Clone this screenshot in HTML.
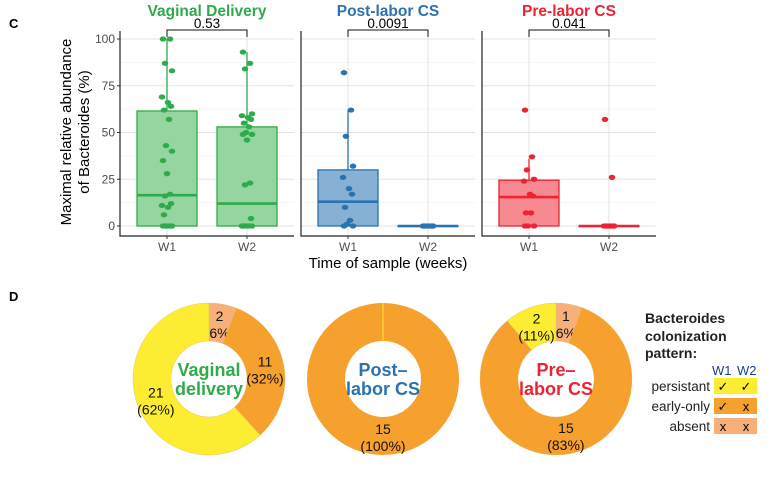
<!DOCTYPE html>
<html><head><meta charset="utf-8">
<style>
html,body{margin:0;padding:0;background:#fff;}
svg{display:block;font-family:"Liberation Sans",Arial,sans-serif;}
</style></head>
<body>
<svg id="fig" width="783" height="477" viewBox="0 0 783 477" xmlns="http://www.w3.org/2000/svg">
<text x="9" y="28" font-size="13" font-weight="bold">C</text>
<text x="9" y="301" font-size="13" font-weight="bold">D</text>
<g id="boxes"></g>
<text x="388" y="268" font-size="15" text-anchor="middle">Time of sample (weeks)</text>
<text transform="translate(71,132) rotate(-90)" font-size="15" text-anchor="middle"><tspan x="0" dy="0">Maximal relative abundance</tspan><tspan x="0" dy="18">of Bacteroides (%)</tspan></text>
<g id="donuts"></g>
<g>
<text font-size="14" font-weight="bold" fill="#222"><tspan x="645" y="323">Bacteroides</tspan><tspan x="645" y="341">colonization</tspan><tspan x="645" y="358">pattern:</tspan></text>
<text x="712" y="375" font-size="13" fill="#1a3f8a">W1</text>
<text x="737" y="375" font-size="13" fill="#1a3f8a">W2</text>
<g id="legrows"></g>
</g>
</svg>
<script>
const NS="http://www.w3.org/2000/svg";
function mk(tag,attrs,parent){const e=document.createElementNS(NS,tag);for(const k in attrs)e.setAttribute(k,attrs[k]);parent.appendChild(e);return e;}

// ---------- Boxplot data ----------
const groups=["Vaginal Delivery","Post-labor CS","Pre-labor CS"];
const groupColors=["#2eab4a","#2a73b0","#ee2233"];
const groupFills=["#95d5a0","#86b0d4","#f68a90"];
const pvalues=["0.53","0.0091","0.041"];
const timepoints=["W1","W2"];
const yTicks=[0,25,50,75,100];
// box stats: [q1, median, q3, whiskerLow, whiskerHigh]
const vdW1Stats=[0,16.5,61.5,0,100];
const vdW2Stats=[0,12,53,0,93];
const plW1Stats=[0,13,30,0,62];
const plW2Stats=[0,0,0,0,0];
const prW1Stats=[0,15.5,24.5,0,36];
const prW2Stats=[0,0,0,0,0];
const vdW1Points=[100,100,87,83,69,66,64,62,57,43,40,35,28,17,16,12,11,10,6,0,0,0,0,0,0,0,0];
const vdW2Points=[93,87,84,60,59,58,57,55,53,50,49,49,46,23,22,4,0,0,0,0,0,0,0,0];
const plW1Points=[82,62,48,32,26,20,17,10,3,1,0,0];
const plW2Points=[0,0,0,0,0,0,0,0,0,0,0];
const prW1Points=[62,37,30,25,24,17,16,7,7,0,0,0];
const prW2Points=[57,26,0,0,0,0,0,0,0,0,0];
const jitter=[-4,3,-2,5,-5,1,4,-3,2,-1,5,-4,0,3,-2,4,-5,1,-3,2,-4,5,0,-2,3,-1,4];

const stats=[[vdW1Stats,vdW2Stats],[plW1Stats,plW2Stats],[prW1Stats,prW2Stats]];
const points=[[vdW1Points,vdW2Points],[plW1Points,plW2Points],[prW1Points,prW2Points]];
const panelX=[120,301,482], panelW=174, panelTop=31, panelBottom=236;
function yS(v){return 226-(v/100)*187;}
const boxes=document.getElementById('boxes');
for(let g=0;g<3;g++){
  const x0=panelX[g];
  const xS=i=>x0+47+i*80;
  const pg=mk('g',{},boxes);
  
  
  for(const t of yTicks){const l=mk('line',{x1:x0,x2:x0+panelW,y1:yS(t),y2:yS(t),stroke:'#e3e3e3','stroke-width':1},pg);}
  for(const t of [12.5,37.5,62.5,87.5]){mk('line',{x1:x0,x2:x0+panelW,y1:yS(t),y2:yS(t),stroke:'#eeeeee','stroke-width':0.6},pg);}
  for(let i=0;i<2;i++){mk('line',{x1:xS(i),x2:xS(i),y1:panelTop,y2:panelBottom,stroke:'#e3e3e3','stroke-width':1},pg);}
  const ax=mk('path',{d:`M${x0},${panelTop} V${panelBottom} H${x0+panelW}`,fill:'none',stroke:'#222','stroke-width':1.2},pg);
  
  if(g===0){for(const t of yTicks){const tx=mk('text',{x:x0-5,y:yS(t)+4,'font-size':12,'text-anchor':'end',fill:'#4d4d4d'},pg);tx.textContent=t;mk('line',{x1:x0-3,x2:x0,y1:yS(t),y2:yS(t),stroke:'#333'},pg);}}
  const tt=mk('text',{x:x0+panelW/2,y:16,'font-size':15.5,'font-weight':'bold','text-anchor':'middle',fill:groupColors[g]},pg);
  tt.textContent=groups[g];
  const br=mk('path',{d:`M${xS(0)},37 V30 H${xS(1)} V37`,fill:'none',stroke:'#111','stroke-width':1},pg);
  
  const pv=mk('text',{x:(xS(0)+xS(1))/2,y:28,'font-size':13.5,'text-anchor':'middle'},pg);
  pv.textContent=pvalues[g];
  for(let i=0;i<2;i++){
    const s=stats[g][i], cx=xS(i), bw=30;
    const tl=mk('text',{x:cx,y:251,'font-size':12,'text-anchor':'middle',fill:'#4d4d4d'},pg);
    tl.textContent=timepoints[i];
    mk('line',{x1:cx,x2:cx,y1:panelBottom,y2:panelBottom+3,stroke:'#333'},pg);
    const wh=mk('line',{x1:cx,x2:cx,y1:yS(s[4]),y2:yS(s[2]),stroke:groupColors[g],'stroke-width':1.3},pg);
    
    const bx=mk('rect',{x:cx-bw,y:yS(s[2]),width:2*bw,height:Math.max(yS(s[0])-yS(s[2]),0.5),fill:groupFills[g],stroke:groupColors[g],'stroke-width':1.3},pg);
    
    const md=mk('line',{x1:cx-bw,x2:cx+bw,y1:yS(s[1]),y2:yS(s[1]),stroke:groupColors[g],'stroke-width':2.6},pg);
    
    points[g][i].forEach((v,k)=>{
      const c=mk('ellipse',{cx:cx+jitter[k%jitter.length],cy:yS(v),rx:3.3,ry:2.6,fill:groupColors[g]},pg);
      
      
    });
  }
}

// ---------- Donut data ----------
const donutTitles=[["Vaginal","delivery"],["Post–","labor CS"],["Pre–","labor CS"]];
const patterns=["absent","early-only","persistant"];
const patternColors=["#f8b07a","#f6a02e","#fcec32"];
const vdCounts=[2,11,21];
const plCounts=[0,15,0];
const prCounts=[1,15,2];
const vdPct=["6%","32%","62%"];
const plPct=["0%","100%","0%"];
const prPct=["6%","83%","11%"];
const counts=[vdCounts,plCounts,prCounts], pcts=[vdPct,plPct,prPct];
const dcx=[209,383,556], dcy=379, R=76, r=38;
const dg=document.getElementById('donuts');
function pt(cx,rad,a){return [cx+rad*Math.sin(a),dcy-rad*Math.cos(a)];}
for(let d=0;d<3;d++){
  const g=mk('g',{},dg);
  const tot=counts[d].reduce((a,b)=>a+b,0);
  let a0=0;
  counts[d].forEach((c,k)=>{
    if(c===0)return;
    const a1=a0+c/tot*2*Math.PI, cx=dcx[d];
    let el;
    if(c===tot){
      el=mk('path',{d:`M${cx},${dcy-R} A${R},${R} 0 0 1 ${cx},${dcy+R} A${R},${R} 0 0 1 ${cx},${dcy-R} Z M${cx},${dcy-r} A${r},${r} 0 0 0 ${cx},${dcy+r} A${r},${r} 0 0 0 ${cx},${dcy-r} Z`,'fill-rule':'evenodd',fill:patternColors[k]},g);
    } else {
      const large=(a1-a0)>Math.PI?1:0;
      const [x1,y1]=pt(cx,R,a0),[x2,y2]=pt(cx,R,a1),[x3,y3]=pt(cx,r,a1),[x4,y4]=pt(cx,r,a0);
      el=mk('path',{d:`M${x1},${y1} A${R},${R} 0 ${large} 1 ${x2},${y2} L${x3},${y3} A${r},${r} 0 ${large} 0 ${x4},${y4} Z`,fill:patternColors[k],stroke:'#e0c060','stroke-width':0.4},g);
    }
    
    
    const am=(a0+a1)/2;const [lx,ly]=c===tot?[cx,dcy+57]:pt(cx,57,am);
    const t=mk('text',{'font-size':14,'text-anchor':'middle',fill:'#111'},g);
    
    
    const s1=mk('tspan',{x:lx,y:ly-2},t);s1.textContent=c;
    const s2=mk('tspan',{x:lx,y:ly+15},t);s2.textContent='('+pcts[d][k]+')';
    a0=a1;
  });
  if(d===1){mk('line',{x1:dcx[d],x2:dcx[d],y1:dcy-R,y2:dcy-r,stroke:'#fcec32','stroke-width':1},g);}
  const ct=mk('text',{'font-size':18,'font-weight':'bold','text-anchor':'middle',fill:groupColors[d]},g);
  
  
  const c1=mk('tspan',{x:dcx[d],y:dcy-3},ct);c1.textContent=donutTitles[d][0];
  const c2=mk('tspan',{x:dcx[d],y:dcy+16},ct);c2.textContent=donutTitles[d][1];
}

// ---------- legend rows ----------
const legLabels=["persistant","early-only","absent"];
const legColors=["#fcec32","#f6a02e","#f8b07a"];
const legW1=["✓","✓","x"], legW2=["✓","x","x"];
const lr=document.getElementById('legrows');
legLabels.forEach((lab,i)=>{
  const y=378+i*20;
  const row=mk('g',{},lr);
  mk('rect',{x:714,y:y,width:43,height:16,fill:legColors[i]},row);
  const t=mk('text',{x:710,y:y+13,'font-size':13.5,'text-anchor':'end',fill:'#222'},row);t.textContent=lab;
  const a=mk('text',{x:723,y:y+13,'font-size':13,'text-anchor':'middle'},row);a.textContent=legW1[i];
  const b=mk('text',{x:746,y:y+13,'font-size':13,'text-anchor':'middle'},row);b.textContent=legW2[i];
});
</script>
</body></html>
